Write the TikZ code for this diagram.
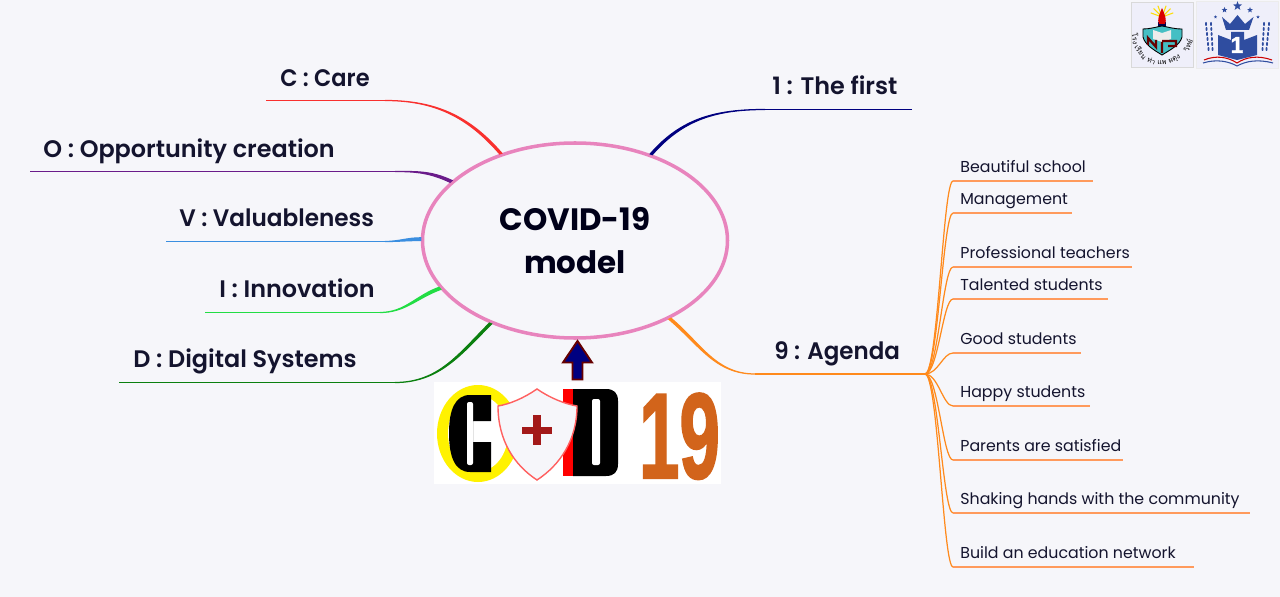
\documentclass[tikz,border=0pt]{standalone}
\usepackage{fontspec}
\setmainfont{Poppins}[BoldFont={Poppins SemiBold}]
\newfontfamily\titlefont{Poppins}[BoldFont={Poppins Bold}]
\newfontfamily\thaifont[Script=Thai]{Loma}
\newfontfamily\logofont{Liberation Sans}[BoldFeatures={FakeBold=2}]
\usetikzlibrary{shapes.geometric,calc}
\definecolor{pagebg}{HTML}{F6F6FA}
\definecolor{inkcol}{HTML}{14142E}
\definecolor{pinkcol}{HTML}{E884BD}
\definecolor{carecol}{HTML}{F9302E}
\definecolor{oppcol}{HTML}{6A1B8A}
\definecolor{valcol}{HTML}{3A8EE0}
\definecolor{inncol}{HTML}{22DD44}
\definecolor{digcol}{HTML}{0B800F}
\definecolor{firstcol}{HTML}{000080}
\definecolor{agendacol}{HTML}{FF8A1C}
\definecolor{leafcol}{HTML}{FF9A5C}
\definecolor{rustcol}{HTML}{D2641B}
\definecolor{crowncol}{HTML}{2F4DA0}
\definecolor{tealcol}{HTML}{45BFC4}
\tikzset{
  mainlabel/.style={anchor=base west,inner sep=0,text=inkcol,font=\fontsize{13.6}{14}\selectfont\bfseries},
  leaflabel/.style={anchor=base west,inner sep=0,text=inkcol,font=\fontsize{9}{10}\selectfont},
  thinline/.style={line width=0.7pt},
  starmark/.style={star,star points=5,star point ratio=2.4,fill=crowncol,inner sep=0},
  thaiword/.style={inner sep=0,text=black,font=\thaifont\fontsize{4}{5}\selectfont}
}
% straight part, then a band that gets wider towards the ellipse
\newcommand{\branchline}[5]{
  \pgfmathsetmacro{\angA}{#4-0.45}
  \pgfmathsetmacro{\angB}{#4+0.45}
  \draw[color=#1,thinline] (#2) -- (#3);
  \filldraw[color=#1,thinline] (#3) to[out=#5,in=#4] (cov.\angA) -- (cov.\angB) to[out=#4,in=#5] (#3) -- cycle;
}
\begin{document}
\begin{tikzpicture}[x=0.2mm,y=-0.2mm]
\useasboundingbox (0,0) rectangle (1280,597);
\fill[pagebg] (0,0) rectangle (1280,597);

\node[ellipse,draw=pinkcol,line width=2pt,minimum width=61mm,minimum height=39mm,inner sep=0,
  align=center,text=black!90!blue,font=\titlefont\fontsize{17.6}{24}\selectfont\bfseries] (cov) at (575,240.5) {COVID-19\\model};

% left side
\node[mainlabel,xscale=0.94] (care) at (280,87) {C : Care};
\node[mainlabel] (opp) at (43,157) {O : Opportunity creation};
\node[mainlabel,xscale=0.97] (val) at (179,227) {V : Valuableness};
\node[mainlabel] (inn) at (219,297) {I : Innovation};
\node[mainlabel] (dig) at (133,367) {D : Digital Systems};
\coordinate (careL) at (266,100.5);
\coordinate (careM) at (385,100.5);
\coordinate (oppL) at (30,171.5);
\coordinate (oppM) at (395,171.5);
\coordinate (valL) at (166,241.5);
\coordinate (valM) at (385,241.5);
\coordinate (innL) at (205,312.5);
\coordinate (innM) at (380,312.5);
\coordinate (digL) at (119,382.5);
\coordinate (digM) at (395,382.5);
\branchline{carecol}{careL}{careM}{131}{0}
\branchline{oppcol}{oppL}{oppM}{155}{0}
\branchline{valcol}{valL}{valM}{180}{0}
\branchline{inncol}{innL}{innM}{200}{0}
\branchline{digcol}{digL}{digM}{225}{0}

% right side
\node[mainlabel] (first) at (772,95) {1 : The first};
\node[mainlabel,xscale=0.96] (agenda) at (774,359) {9 : Agenda};
\coordinate (firstR) at (912,109.5);
\coordinate (firstM) at (765,109.5);
\coordinate (agendaM) at (755,374);
\coordinate (hub) at (925,374);
\branchline{firstcol}{firstR}{firstM}{49}{180}
\branchline{agendacol}{hub}{agendaM}{-40}{180}

\foreach \nm/\ly/\xe/\txt in {
  school/181/1093/Beautiful school,
  manage/213/1072/Management,
  teach/267/1132/Professional teachers,
  talent/299/1108/Talented students,
  good/353/1081/Good students,
  happy/406/1090/Happy students,
  parent/460/1123/Parents are satisfied,
  hands/513/1250/Shaking hands with the community,
  network/567/1194/Build an education network}{
  \coordinate (\nm L) at (953,\ly);
  \coordinate (\nm R) at (\xe,\ly);
  \node[leaflabel] (\nm) at (960,\ly-8.5) {\txt};
  \draw[agendacol,thinline] (hub) .. controls (938,374) and (943,\ly) .. (\nm L);
  \draw[leafcol,thinline] (\nm L) -- (\nm R);
}

% logo under the ellipse
\node[fill=white,inner sep=0,minimum width=57.4mm,minimum height=20.4mm] (logo) at (577.5,433) {};
\fill[yellow] (478,433.5) ellipse (41 and 48.5);
\fill[white] (478,433.5) ellipse (30 and 38);
\fill[black] (491,395) -- (470,395) .. controls (455,395) and (449,410) .. (449,433) .. controls (449,457) and (455,472) .. (470,472)
  -- (491,472) -- (491,442) -- (473,442) -- (473,421) -- (491,421) -- cycle;
\fill[white,rounded corners=0.4mm] (467,402) rectangle (473,465);
\fill[red] (563,389) rectangle (573,476);
\fill[black] (573,389) -- (606,389) .. controls (614,389) and (618,393) .. (618,401) -- (618,464) .. controls (618,472) and (614,476) .. (606,476) -- (573,476) -- cycle;
\fill[white,rounded corners=0.4mm] (592,399) rectangle (600,465);
\node[text=rustcol,inner sep=0,anchor=base,font=\logofont\fontsize{69}{69}\selectfont\bfseries,xscale=0.6] (nineteen) at (679.5,478) {19};
\draw[line width=0.8pt,draw=red!50!pink,fill=pagebg] (537,389) .. controls (550,398) and (565,404) .. (577,406)
  .. controls (577,440) and (560,465) .. (537,480) .. controls (514,465) and (498,440) .. (498,406)
  .. controls (510,404) and (524,398) .. (537,389) -- cycle;
\fill[red!60!black!90!white] (522,426.5) rectangle (552,433.5);
\fill[red!60!black!90!white] (533,415) rectangle (541,445);
\draw[draw=red!40!black,line width=1.1pt,fill=blue!50!black] (577.5,341) -- (592,362.5) -- (582.5,362.5) -- (582.5,379.5) -- (572.5,379.5) -- (572.5,362.5) -- (563,362.5) -- cycle;

% school badge, left tile
\node[draw=gray!30,fill=pagebg!97!blue,inner sep=0,minimum width=12.4mm,minimum height=13mm] (badge) at (1162.5,34.5) {};
\foreach \a in {-70,-45,-20,20,45,70}
  \draw[yellow!80!orange,line width=0.6pt] (1162,17) -- ++(\a-90:12);
\fill[black!70!blue] (1158,22) rectangle (1166,27);
\fill[red!85!black] (1162,8) .. controls (1165,15) and (1167,20) .. (1165,24) -- (1159,24) .. controls (1157,20) and (1159,15) .. (1162,8) -- cycle;
\draw[black,fill=tealcol,line width=0.5pt] (1143,29) .. controls (1150,29) and (1156,27) .. (1162,26)
  .. controls (1168,27) and (1174,29) .. (1182,29) -- (1182,37) .. controls (1180,45) and (1170,50) .. (1162,55)
  .. controls (1154,50) and (1145,45) .. (1143,37) -- cycle;
\fill[white!85!gray] (1153,30) -- (1162,33) -- (1171,30) -- (1171,39) -- (1162,42) -- (1153,39) -- cycle;
\draw[red!40!black,line width=1.3pt] (1148,45) -- (1148,38) -- (1156,47) -- (1156,40) (1162,42) -- (1162,53) (1162,41) -- (1176,41) -- (1176,46) -- (1168,46);
\foreach \a/\wrd in {186/โรง,217/เรียน,246/ท่า,269/แพ,297/ผดุง,340/วิทย์}
  \node[thaiword,rotate=\a+90] (word\a) at ($(1162.5,36)+(-\a:27)$) {\wrd};

% school badge, right tile
\node[draw=gray!15,fill=pagebg!97!blue,inner sep=0,minimum width=16.4mm,minimum height=13.4mm] (crest) at (1237,34.5) {};
\node[starmark,minimum size=1.9mm] (starA) at (1237.5,6) {};
\node[starmark,minimum size=1.2mm] (starB) at (1224.5,10) {};
\node[starmark,minimum size=1.2mm] (starC) at (1250,10) {};
\node[starmark,minimum size=0.7mm] (starD) at (1215.5,17) {};
\node[starmark,minimum size=0.7mm] (starE) at (1258,17) {};
\fill[crowncol] (1222,17) -- (1230,24) -- (1237.5,15) -- (1245,24) -- (1253.5,17) -- (1249,30) -- (1226,30) -- cycle;
\fill[crowncol] (1218,35) -- (1231,40) -- (1231,32) -- (1244,32) -- (1244,40) -- (1257,35) -- (1257,55) -- (1237,60) -- (1218,55) -- cycle;
\node[inner sep=0,text=white,font=\logofont\fontsize{13}{13}\selectfont\bfseries] (one) at (1237,45) {1};
\foreach \t in {0,1,...,5}{
  \fill[crowncol] (1206+\t*0.5,24+\t*5) ellipse (1 and 2);
  \fill[crowncol] (1211+\t*0.3,24+\t*5) ellipse (1 and 2);
  \fill[crowncol] (1269-\t*0.5,24+\t*5) ellipse (1 and 2);
  \fill[crowncol] (1264-\t*0.3,24+\t*5) ellipse (1 and 2);
}
\draw[red!80!black,line width=0.6pt] (1204,60) .. controls (1216,55) and (1228,57) .. (1237,63) .. controls (1246,57) and (1258,55) .. (1272,60);
\draw[crowncol,line width=0.6pt] (1203,63) .. controls (1216,59) and (1228,61) .. (1237,66) .. controls (1246,61) and (1258,59) .. (1273,63);
\end{tikzpicture}
\end{document}
